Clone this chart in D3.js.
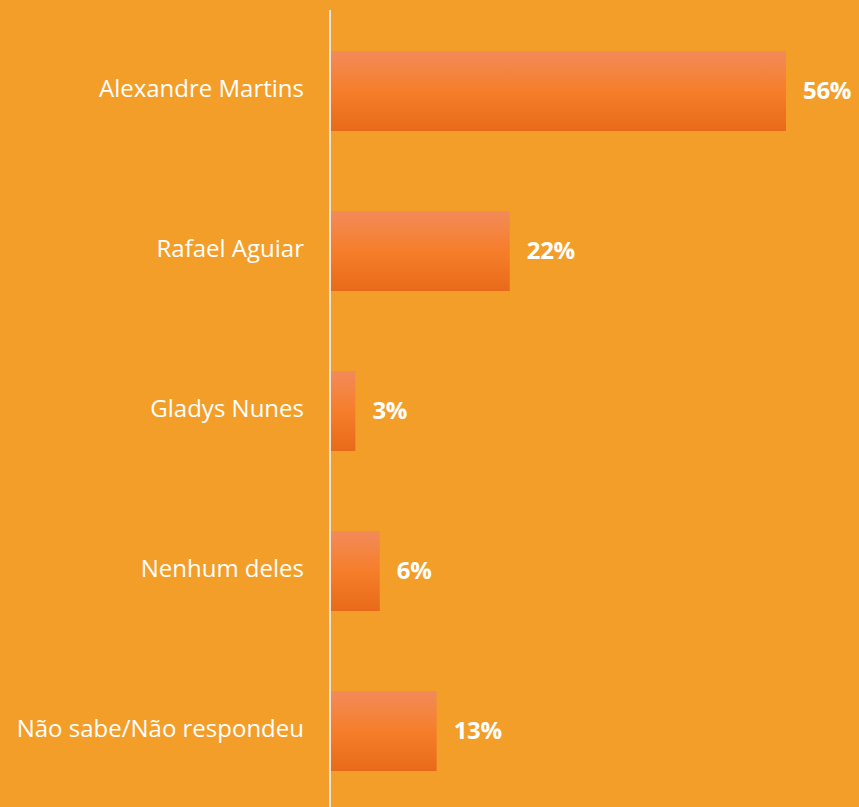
<!DOCTYPE html>
<html><head><meta charset="utf-8">
<script src="https://cdn.jsdelivr.net/npm/d3@7"></script>
<style>html,body{margin:0;padding:0;background:#F49E2A;}svg{display:block;}</style>
</head><body>
<script>
const categories = ["Alexandre Martins","Rafael Aguiar","Gladys Nunes","Nenhum deles","Não sabe/Não respondeu"];
const values = [56,22,3,6,13];

const W=859,H=807;
const svg=d3.select("body").append("svg").attr("width",W).attr("height",H);
svg.append("rect").attr("width",W).attr("height",H).attr("fill","#F49E2A");
const defs=svg.append("defs");
const g=defs.append("linearGradient").attr("id","bg").attr("x1",0).attr("y1",0).attr("x2",0).attr("y2",1);
g.append("stop").attr("offset","0%").attr("stop-color","#F28B5A");
g.append("stop").attr("offset","50%").attr("stop-color","#F67E2A");
g.append("stop").attr("offset","100%").attr("stop-color","#E86A18");

const x0=331;
const x=d3.scaleLinear().domain([0,56]).range([x0,786]);
const y=d3.scaleBand().domain(categories).range([11,811]).paddingInner(0.5).paddingOuter(0.25);

svg.selectAll("rect.bar").data(values).join("rect").attr("class","bar")
 .attr("x",x0).attr("y",(d,i)=>y(categories[i]))
 .attr("width",d=>x(d)-x0).attr("height",y.bandwidth()).attr("fill","url(#bg)");

svg.append("line").attr("x1",330).attr("x2",330).attr("y1",10).attr("y2",H).attr("stroke","#E6E6E6").attr("stroke-width",2);

svg.selectAll("text.cat").data(categories).join("text").attr("class","cat")
 .attr("x",304).attr("y",d=>y(d)+y.bandwidth()/2).attr("dy","0.27em")
 .attr("text-anchor","end").attr("fill","#fff").attr("font-family","Open Sans").attr("font-size",24)
 .text(d=>d);

svg.selectAll("text.val").data(values).join("text").attr("class","val")
 .attr("x",d=>x(d)+17).attr("y",(d,i)=>y(categories[i])+y.bandwidth()/2).attr("dy","0.35em")
 .attr("fill","#fff").attr("font-family","Open Sans").attr("font-weight","bold").attr("font-size",24)
 .attr("letter-spacing","-0.3")
 .text(d=>d+"%");
</script>
</body></html>
